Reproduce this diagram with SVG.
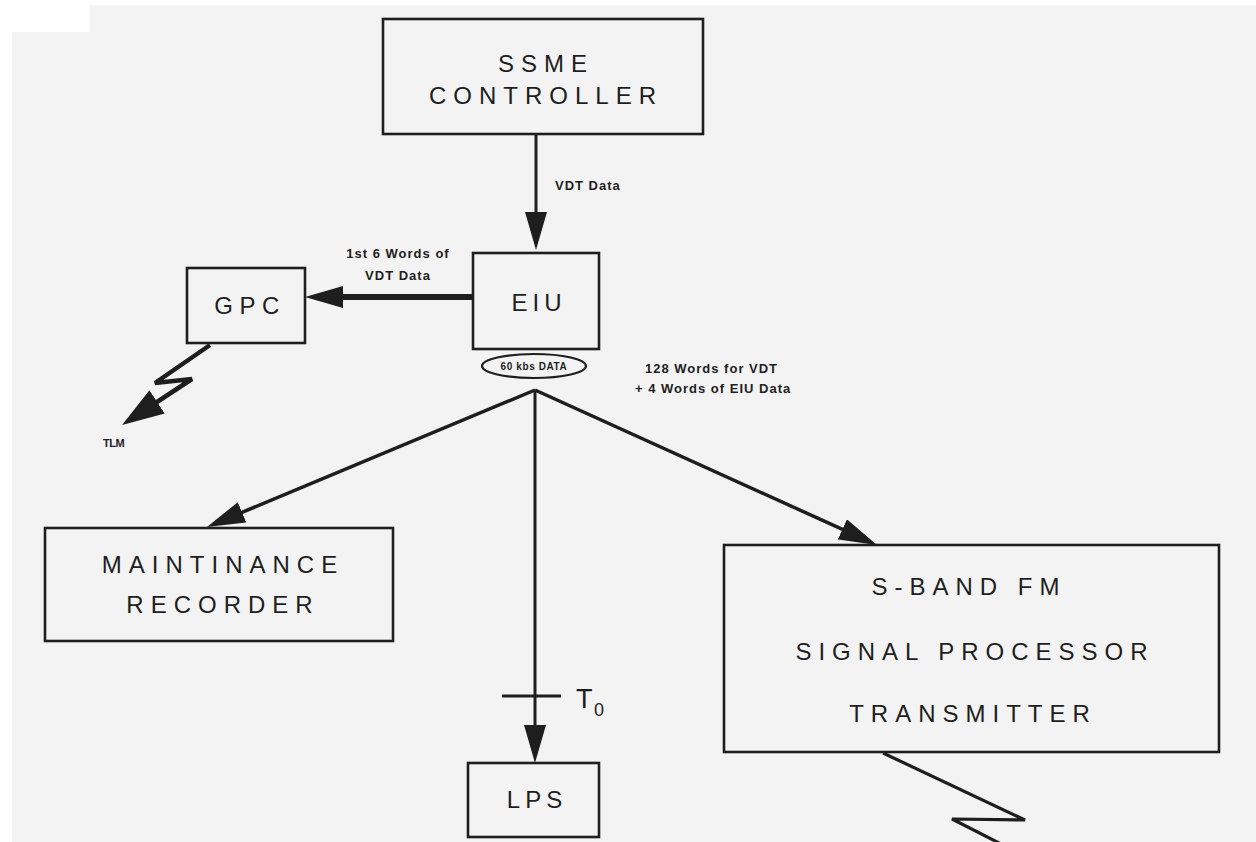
<svg xmlns="http://www.w3.org/2000/svg" width="1256" height="842" viewBox="0 0 1256 842">
<defs>
<style>
.box{fill:none;stroke:#1e1e1e;stroke-width:2.6}
.lbl{font-family:"Liberation Sans",Arial,sans-serif;font-size:24px;fill:#1e1e1e;letter-spacing:7px;text-anchor:middle}
.sm{font-family:"Liberation Sans",Arial,sans-serif;font-size:13px;font-weight:bold;fill:#1e1e1e;letter-spacing:1px}
.ln{stroke:#1e1e1e;fill:none;stroke-linejoin:miter}
</style>
<marker id="ah" markerUnits="userSpaceOnUse" viewBox="0 0 38 22" markerWidth="38" markerHeight="22" refX="28" refY="11" orient="auto">
<path d="M0,0 L38,11 L0,22 z" fill="#1e1e1e"/>
</marker>
<marker id="ahb" markerUnits="userSpaceOnUse" viewBox="0 0 42 28" markerWidth="42" markerHeight="28" refX="32" refY="14" orient="auto">
<path d="M0,0 L42,14 L0,28 z" fill="#1e1e1e"/>
</marker>
</defs>
<rect width="1256" height="842" fill="#ffffff"/>
<path d="M12,32 L90,32 L90,5 L1256,5 L1256,842 L12,842 z" fill="#f3f3f3"/>

<g id="connectors">
<line class="ln" x1="536" y1="134" x2="536" y2="240" stroke-width="3" marker-end="url(#ah)"/>
<line class="ln" x1="473" y1="297" x2="315" y2="297" stroke-width="6" marker-end="url(#ah)"/>
<line class="ln" x1="535" y1="390" x2="216.2" y2="523.1" stroke-width="3.5" marker-end="url(#ah)"/>
<line class="ln" x1="535" y1="390" x2="535" y2="753" stroke-width="3" marker-end="url(#ah)"/>
<line class="ln" x1="535" y1="390" x2="867.9" y2="540.9" stroke-width="3.5" marker-end="url(#ah)"/>
<line class="ln" x1="502" y1="696" x2="561" y2="696" stroke-width="3"/>
<polyline class="ln" points="210,345 155,383 192,379 130.4,419.5" stroke-width="4.5" marker-end="url(#ahb)"/>
<polyline class="ln" points="883,753 1025,820 952,819 1005,846" stroke-width="3.2"/>
</g>

<g id="ssme">
<rect class="box" x="383" y="19" width="320" height="115"/>
<text class="lbl" x="546" y="72">SSME</text>
<text class="lbl" x="546" y="104">CONTROLLER</text>
</g>
<text class="sm" x="555" y="190">VDT Data</text>

<g id="eiu">
<rect class="box" x="473" y="253" width="126" height="96"/>
<text class="lbl" x="539" y="311" style="letter-spacing:5px">EIU</text>
</g>
<g id="ellipse">
<ellipse cx="534" cy="366" rx="52" ry="12" fill="none" stroke="#1e1e1e" stroke-width="2.2"/>
<text x="534" y="370" style="font-family:'Liberation Sans',Arial,sans-serif;font-size:10px;font-weight:bold;fill:#1e1e1e;letter-spacing:0.6px;text-anchor:middle">60 kbs DATA</text>
</g>
<text class="sm" x="398" y="258" text-anchor="middle">1st 6 Words of</text>
<text class="sm" x="398" y="280" text-anchor="middle">VDT Data</text>
<text class="sm" x="645" y="373">128 Words for VDT</text>
<text class="sm" x="635" y="393">+ 4 Words of EIU Data</text>

<g id="gpc">
<rect class="box" x="187" y="268" width="118" height="75"/>
<text class="lbl" x="250" y="314" style="letter-spacing:6.5px">GPC</text>
</g>
<text x="103" y="447" style="font-family:'Liberation Sans',Arial,sans-serif;font-size:11px;font-weight:bold;fill:#1e1e1e;letter-spacing:-0.5px">TLM</text>

<g id="maint">
<rect class="box" x="45" y="528" width="348" height="113"/>
<text class="lbl" x="223" y="573">MAINTINANCE</text>
<text class="lbl" x="223" y="613">RECORDER</text>
</g>

<g id="sband">
<rect class="box" x="724" y="545" width="495" height="207"/>
<text class="lbl" x="969" y="595">S-BAND FM</text>
<text class="lbl" x="975" y="660">SIGNAL PROCESSOR</text>
<text class="lbl" x="973" y="722">TRANSMITTER</text>
</g>

<g id="lps">
<rect class="box" x="468" y="763" width="131" height="74"/>
<text class="lbl" x="537" y="808" style="letter-spacing:5px">LPS</text>
</g>
<g id="t0">
<text x="576" y="708" style="font-family:'Liberation Sans',Arial,sans-serif;font-size:27px;fill:#1e1e1e">T</text>
<text x="594" y="716" style="font-family:'Liberation Sans',Arial,sans-serif;font-size:18px;fill:#1e1e1e">0</text>
</g>
</svg>
